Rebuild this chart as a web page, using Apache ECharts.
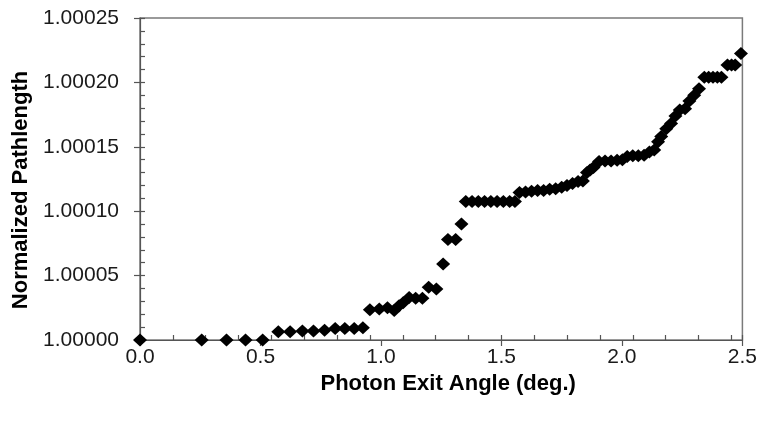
<!DOCTYPE html>
<html>
<head>
<meta charset="utf-8">
<script src="https://cdn.jsdelivr.net/npm/echarts@6/dist/echarts.min.js"></script>
<style>html,body{margin:0;padding:0;background:#fff}#c{width:760px;height:424px}</style>
</head>
<body>
<div id="c"></div>
<script>
// Photon exit angle (deg.)
var angles = [
  0.000, 0.256, 0.359, 0.438, 0.509, 0.574, 0.623, 0.674, 0.720, 0.766,
  0.810, 0.850, 0.889, 0.925, 0.954, 0.993, 1.027, 1.055, 1.075, 1.092,
  1.117, 1.144, 1.172, 1.198, 1.230, 1.258, 1.278, 1.310, 1.334,
  1.352, 1.378, 1.404, 1.430, 1.456, 1.482, 1.508, 1.534, 1.556,
  1.575, 1.600, 1.625, 1.650, 1.675, 1.700, 1.725, 1.750, 1.772, 1.795,
  1.818, 1.838, 1.855, 1.868, 1.882, 1.905, 1.930, 1.955, 1.980, 2.002,
  2.022, 2.045, 2.068, 2.092, 2.114, 2.134, 2.150, 2.163, 2.184, 2.204,
  2.222, 2.240, 2.262, 2.280, 2.300, 2.320, 2.342, 2.360, 2.378, 2.396,
  2.413, 2.438, 2.455, 2.470, 2.494
];
// Normalized pathlength
var pathlengths = [
  1.0000000, 1.0000000, 1.0000000, 1.0000000, 1.0000000, 1.0000065, 1.0000065, 1.0000070, 1.0000070, 1.0000075,
  1.0000090, 1.0000090, 1.0000090, 1.0000095, 1.0000235, 1.0000240, 1.0000250, 1.0000230, 1.0000265, 1.0000290,
  1.0000330, 1.0000325, 1.0000325, 1.0000410, 1.0000395, 1.0000590, 1.0000780, 1.0000780, 1.0000900,
  1.0001075, 1.0001075, 1.0001075, 1.0001075, 1.0001075, 1.0001075, 1.0001075, 1.0001075, 1.0001075,
  1.0001145, 1.0001150, 1.0001155, 1.0001160, 1.0001160, 1.0001170, 1.0001175, 1.0001185, 1.0001200, 1.0001215,
  1.0001230, 1.0001235, 1.0001300, 1.0001320, 1.0001340, 1.0001385, 1.0001390, 1.0001390, 1.0001395, 1.0001400,
  1.0001425, 1.0001430, 1.0001430, 1.0001435, 1.0001460, 1.0001475, 1.0001540, 1.0001580, 1.0001640, 1.0001680,
  1.0001740, 1.0001785, 1.0001795, 1.0001855, 1.0001900, 1.0001950, 1.0002040, 1.0002040, 1.0002040, 1.0002040,
  1.0002040, 1.0002135, 1.0002135, 1.0002135, 1.0002225
];
var xTicks = ['0.0', '0.5', '1.0', '1.5', '2.0', '2.5'];
var yTicks = ['1.00000', '1.00005', '1.00010', '1.00015', '1.00020', '1.00025'];

var pts = angles.map(function (a, i) { return [a, pathlengths[i]]; });
var chart = echarts.init(document.getElementById('c'), null, {renderer: 'canvas'});
var axisCol = '#555';
var font = 'Liberation Sans, Arial, sans-serif';
chart.setOption({
  animation: false,
  backgroundColor: '#fff',
  grid: {left: 140, right: 17, top: 18, bottom: 84, show: true, borderColor: '#7a7a7a', borderWidth: 1.5, backgroundColor: 'transparent'},
  xAxis: [{
    type: 'value', min: 0, max: 2.5, interval: 0.5, position: 'bottom',
    axisLine: {show: true, lineStyle: {color: axisCol, width: 1.2}},
    axisTick: {show: true, inside: false, length: 6, lineStyle: {color: axisCol, width: 1.2}},
    splitLine: {show: false},
    axisLabel: {margin: 7, fontFamily: font, fontSize: 21, color: '#1a1a1a',
      formatter: function (v) { var i = Math.round(v / 0.5); return xTicks[i] !== undefined ? xTicks[i] : ''; }},
    name: 'Photon Exit Angle (deg.)', nameLocation: 'middle', nameGap: 31,
    nameTextStyle: {fontFamily: font, fontWeight: 'bold', fontSize: 22, color: '#000', padding: [0, 0, 0, 14]}
  }, {
    type: 'value', min: 0, max: 2.5, interval: 3 / 22, position: 'bottom',
    axisLine: {show: false}, splitLine: {show: false}, axisLabel: {show: false},
    axisTick: {show: true, inside: true, length: 5, lineStyle: {color: axisCol, width: 1.2}}
  }],
  yAxis: [{
    type: 'value', min: 1, max: 1.00025, interval: 0.00005, position: 'left',
    axisLine: {show: true, lineStyle: {color: axisCol, width: 1.2}},
    axisTick: {show: true, inside: false, length: 6, lineStyle: {color: axisCol, width: 1.2}},
    splitLine: {show: false},
    axisLabel: {margin: 21, fontFamily: font, fontSize: 21, color: '#1a1a1a',
      formatter: function (v) { var i = Math.round((v - 1) / 0.00005); return yTicks[i] !== undefined ? yTicks[i] : ''; }},
    name: 'Normalized Pathlength', nameLocation: 'middle', nameGap: 106, nameRotate: 90,
    nameTextStyle: {fontFamily: font, fontWeight: 'bold', fontSize: 22, color: '#000', padding: [0, 22, 0, 0]}
  }, {
    type: 'value', min: 1, max: 1.00025, interval: 0.00001, position: 'left', offset: 0,
    axisLine: {show: false}, splitLine: {show: false}, axisLabel: {show: false},
    axisTick: {show: true, inside: true, length: 5, lineStyle: {color: axisCol, width: 1.2}}
  }],
  series: [{
    type: 'scatter', xAxisIndex: 0, yAxisIndex: 0,
    data: pts, symbol: 'diamond', symbolSize: [14, 13],
    itemStyle: {color: '#000', opacity: 1}, silent: true, clip: false
  }]
});
</script>
</body>
</html>
